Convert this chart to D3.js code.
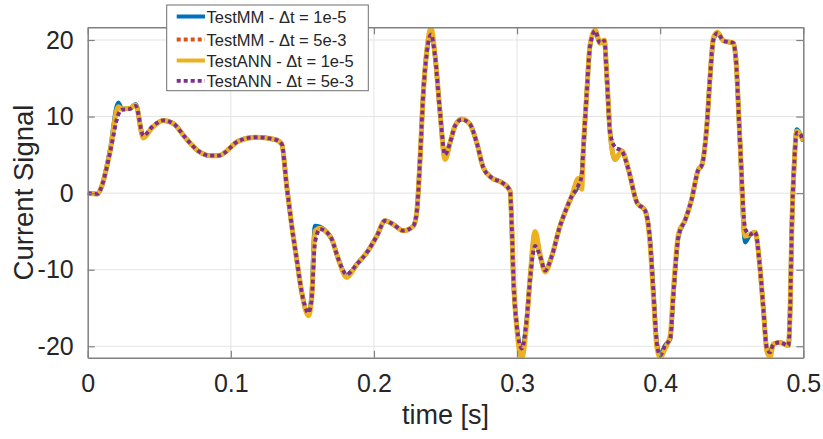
<!DOCTYPE html>
<html>
<head>
<meta charset="utf-8">
<script src="https://cdn.jsdelivr.net/npm/d3@7"></script>
<style>
    body { margin: 0; background: #fff; }
    text { font-family: "Liberation Sans", Arial, sans-serif; fill: #262626; }
</style>
</head>
<body>
<div id="chart"></div>
<script>
// sample times (s)
var time = [0.000, 0.007, 0.0098, 0.0156, 0.0214, 0.0238, 0.0296, 0.0335, 0.0389, 0.0447,
    0.0528, 0.0598, 0.068, 0.0773, 0.0855, 0.0913, 0.1053, 0.117, 0.131, 0.1356,
    0.139, 0.1426, 0.146, 0.1496, 0.1542, 0.1565, 0.1588, 0.1623, 0.1665, 0.1705,
    0.1751, 0.181, 0.188, 0.196, 0.202, 0.2078, 0.2136, 0.2205, 0.2275, 0.2299,
    0.2322, 0.2345, 0.2369, 0.2399, 0.2427, 0.2462, 0.2497, 0.2532, 0.2567, 0.2613,
    0.2671, 0.2718, 0.2765, 0.2823, 0.2893, 0.2951, 0.2963, 0.2974, 0.2998, 0.3033,
    0.3068, 0.3091, 0.3126, 0.3161, 0.3196, 0.3243, 0.33, 0.3335, 0.3382, 0.3428,
    0.3452, 0.3463, 0.3487, 0.351, 0.3545, 0.358, 0.361, 0.3627, 0.365, 0.3685,
    0.3732, 0.3778, 0.3837, 0.3895, 0.393, 0.3953, 0.3976, 0.4, 0.4034, 0.407,
    0.4093, 0.4128, 0.4175, 0.422, 0.4267, 0.429, 0.4326, 0.4349, 0.4372, 0.44,
    0.4442, 0.4512, 0.4529, 0.4558, 0.4594, 0.4628, 0.4663, 0.4698, 0.4721, 0.4745,
    0.4768, 0.4791, 0.4838, 0.4896, 0.4908, 0.492, 0.4938, 0.4955, 0.4978, 0.5];

var mmFine = [0.0, -0.1, 0.9, 5.6, 11.8, 11.0, 11.1, 11.6, 7.3, 8.5,
    9.5, 9.1, 7.3, 5.5, 4.9, 4.9, 6.8, 7.3, 7.0, 6.4,
    1.0, -4.3, -8.6, -13.0, -15.8, -13.2, -4.3, -4.4, -5.0, -6.0,
    -8.6, -10.8, -9.3, -7.5, -5.6, -3.6, -4.1, -4.9, -4.3, -2.5,
    4.4, 13.1, 18.5, 21.0, 17.9, 10.5, 4.5, 6.6, 8.8, 9.7,
    9.0, 6.6, 3.3, 2.0, 1.4, 0.3, -4.3, -10.8, -17.3, -20.6,
    -16.4, -11.2, -5.2, -8.2, -10.1, -8.2, -4.3, -2.5, -0.4, 1.0,
    2.3, 5.7, 13.1, 19.2, 21.2, 19.6, 19.9, 15.3, 7.9, 4.4,
    5.5, 3.1, -1.2, -2.3, -6.4, -13.0, -19.5, -21.2, -19.9, -19.0,
    -13.0, -5.6, -3.5, -0.8, 3.1, 3.6, 8.8, 15.3, 20.1, 20.9,
    19.9, 19.6, 17.5, 6.6, -6.4, -5.4, -5.1, -9.9, -15.1, -20.3,
    -20.8, -19.7, -19.5, -19.9, -15.1, -4.3, 4.4, 8.3, 7.7, 6.8];

var mmCoarse = [0.0, -0.1, 0.9, 5.3, 10.3, 10.9, 11.0, 11.4, 7.5, 8.6,
    9.5, 9.1, 7.3, 5.5, 4.9, 4.9, 6.8, 7.3, 7.0, 6.4,
    1.0, -4.3, -8.6, -13.0, -15.6, -13.8, -6.4, -4.7, -5.0, -6.0,
    -8.6, -10.6, -9.3, -7.5, -5.6, -3.6, -4.1, -4.9, -4.3, -2.5,
    4.4, 13.1, 18.3, 20.7, 17.9, 10.5, 5.0, 6.6, 8.8, 9.6,
    9.0, 6.6, 3.3, 2.0, 1.4, 0.3, -4.3, -10.8, -17.3, -20.3,
    -16.4, -11.2, -6.9, -8.2, -10.1, -8.2, -4.3, -2.5, -0.4, 1.0,
    2.3, 5.7, 13.1, 19.2, 21.2, 19.6, 19.9, 15.3, 7.9, 6.0,
    5.5, 3.1, -1.2, -2.3, -6.4, -13.0, -19.5, -21.2, -19.9, -19.0,
    -13.0, -5.6, -3.5, -0.8, 3.1, 3.6, 8.8, 15.3, 20.1, 20.9,
    19.9, 19.6, 17.5, 6.6, -4.7, -5.4, -5.1, -9.9, -15.1, -20.3,
    -20.8, -19.7, -19.5, -19.9, -15.1, -4.3, 4.4, 7.9, 7.7, 6.8];

var annFine = [0.0, -0.1, 0.9, 5.4, 11.3, 11.0, 11.1, 11.5, 7.2, 8.5,
    9.5, 9.1, 7.3, 5.5, 4.9, 4.9, 6.8, 7.3, 7.0, 6.4,
    1.0, -4.3, -8.6, -13.0, -16.0, -13.8, -5.0, -4.6, -5.0, -6.0,
    -8.6, -11.0, -9.3, -7.5, -5.6, -3.6, -4.1, -4.9, -4.3, -2.5,
    4.4, 13.1, 18.6, 21.6, 18.0, 10.5, 4.4, 6.6, 8.8, 9.7,
    9.0, 6.6, 3.3, 2.0, 1.4, 0.3, -4.3, -10.8, -17.6, -21.5,
    -16.8, -11.0, -5.0, -8.0, -10.3, -8.2, -4.3, -2.5, -0.4, 1.9,
    0.5, 5.7, 13.1, 19.4, 21.3, 19.6, 20.0, 15.3, 7.9, 4.4,
    5.5, 3.1, -1.2, -2.3, -6.8, -13.5, -20.0, -21.5, -20.3, -18.6,
    -12.5, -5.3, -3.5, -0.8, 3.1, 3.6, 8.8, 15.3, 20.3, 21.0,
    19.9, 19.6, 17.5, 6.6, -5.6, -5.4, -5.1, -9.9, -15.1, -20.6,
    -21.4, -19.7, -19.5, -19.9, -15.1, -4.3, 4.4, 8.1, 7.7, 6.8];

var annCoarse = [0.0, -0.1, 0.9, 5.3, 10.3, 10.9, 11.0, 11.4, 7.5, 8.6,
    9.5, 9.1, 7.3, 5.5, 4.9, 4.9, 6.8, 7.3, 7.0, 6.4,
    1.0, -4.3, -8.6, -13.0, -15.6, -13.8, -6.4, -4.7, -5.0, -6.0,
    -8.6, -10.6, -9.3, -7.5, -5.6, -3.6, -4.1, -4.9, -4.3, -2.5,
    4.4, 13.1, 18.3, 20.7, 17.9, 10.5, 5.0, 6.6, 8.8, 9.6,
    9.0, 6.6, 3.3, 2.0, 1.4, 0.3, -4.3, -10.8, -17.3, -20.3,
    -16.4, -11.2, -6.9, -8.2, -10.1, -8.2, -4.3, -2.5, -0.4, 1.0,
    2.3, 5.7, 13.1, 19.2, 21.2, 19.6, 19.9, 15.3, 7.9, 6.0,
    5.5, 3.1, -1.2, -2.3, -6.4, -13.0, -19.5, -21.2, -19.9, -19.0,
    -13.0, -5.6, -3.5, -0.8, 3.1, 3.6, 8.8, 15.3, 20.1, 20.9,
    19.9, 19.6, 17.5, 6.6, -4.7, -5.4, -5.1, -9.9, -15.1, -20.3,
    -20.8, -19.7, -19.5, -19.9, -15.1, -4.3, 4.4, 7.9, 7.7, 6.8];

var seriesNames = ["TestMM - \u0394t = 1e-5", "TestMM - \u0394t = 5e-3",
    "TestANN - \u0394t = 1e-5", "TestANN - \u0394t = 5e-3"];
var xTicks = [0, 0.1, 0.2, 0.3, 0.4, 0.5];
var yTicks = [-20, -10, 0, 10, 20];

var W = 823, H = 439;
// plot box (note: "top" is reserved on window, so use box*)
var boxL = 87.7, boxR = 803.3, boxT = 27.3, boxB = 357.7;

var styles = [
    {color: "#0072BD", width: 4.5, dash: null},
    {color: "#D95319", width: 3.8, dash: "4,3"},
    {color: "#EDB120", width: 5, dash: null},
    {color: "#7E2F8E", width: 3.8, dash: "4,3"}
];
var allValues = [mmFine, mmCoarse, annFine, annCoarse];

var svg = d3.select("#chart").append("svg")
    .attr("width", W)
    .attr("height", H);

svg.append("rect").attr("width", W).attr("height", H).attr("fill", "#fff");

var x = d3.scaleLinear().domain([0, 0.5]).range([boxL, boxR]);
var y = d3.scaleLinear().domain([-21.49, 21.66]).range([boxB, boxT]);

// grid
svg.append("g").selectAll("line").data(xTicks.slice(1, -1)).enter().append("line")
    .attr("x1", function (d) { return x(d); })
    .attr("x2", function (d) { return x(d); })
    .attr("y1", boxT).attr("y2", boxB)
    .attr("stroke", "#e3e3e3").attr("stroke-width", 1);
svg.append("g").selectAll("line").data(yTicks).enter().append("line")
    .attr("y1", function (d) { return y(d); })
    .attr("y2", function (d) { return y(d); })
    .attr("x1", boxL).attr("x2", boxR)
    .attr("stroke", "#e3e3e3").attr("stroke-width", 1);

// curves
svg.append("clipPath").attr("id", "clip").append("rect")
    .attr("x", boxL).attr("y", boxT)
    .attr("width", boxR - boxL).attr("height", boxB - boxT);

var line = d3.line()
    .x(function (d) { return x(d[0]); })
    .y(function (d) { return y(d[1]); })
    .curve(d3.curveMonotoneX);

var plot = svg.append("g").attr("clip-path", "url(#clip)");
allValues.forEach(function (vals, k) {
    var pts = time.map(function (t, i) { return [t, vals[i]]; });
    var p = plot.append("path")
        .attr("d", line(pts))
        .attr("fill", "none")
        .attr("stroke", styles[k].color)
        .attr("stroke-width", styles[k].width)
        .attr("stroke-linejoin", "round");
    if (styles[k].dash) p.attr("stroke-dasharray", styles[k].dash);
});

// axes with inward ticks, MATLAB box style (plain hyphen for minus)
var fmt = function (d) { return String(d); };
var axB = svg.append("g").attr("transform", "translate(0," + boxB + ")")
    .call(d3.axisBottom(x).tickValues(xTicks).tickSizeInner(-7).tickSizeOuter(0).tickPadding(17).tickFormat(fmt));
var axT = svg.append("g").attr("transform", "translate(0," + boxT + ")")
    .call(d3.axisTop(x).tickValues(xTicks).tickSizeInner(-7).tickSizeOuter(0).tickFormat(""));
var axL = svg.append("g").attr("transform", "translate(" + boxL + ",0)")
    .call(d3.axisLeft(y).tickValues(yTicks).tickSizeInner(-7).tickSizeOuter(0).tickPadding(14).tickFormat(fmt));
var axR = svg.append("g").attr("transform", "translate(" + boxR + ",0)")
    .call(d3.axisRight(y).tickValues(yTicks).tickSizeInner(-7).tickSizeOuter(0).tickFormat(""));

[axB, axT, axL, axR].forEach(function (a) {
    a.select(".domain").attr("stroke", "#808080").attr("stroke-width", 1.5);
    a.selectAll(".tick line").attr("stroke", "#808080").attr("stroke-width", 1.2);
    a.selectAll("text").attr("font-size", "25px")
        .attr("font-family", "'Liberation Sans', Arial, sans-serif")
        .attr("fill", "#262626");
});

// labels
svg.append("text")
    .attr("x", (boxL + boxR) / 2).attr("y", 424)
    .attr("text-anchor", "middle")
    .attr("font-size", "27px")
    .text("time [s]");
svg.append("text")
    .attr("transform", "translate(33," + ((boxT + boxB) / 2) + ") rotate(-90)")
    .attr("text-anchor", "middle")
    .attr("font-size", "27.5px")
    .text("Current Signal");

// legend
var lg = svg.append("g");
lg.append("rect")
    .attr("x", 166.7).attr("y", 5)
    .attr("width", 201.6).attr("height", 85.7)
    .attr("fill", "#fff").attr("stroke", "#6e6e6e").attr("stroke-width", 1);
var rowY = [16.5, 39.5, 60.5, 80.8];
seriesNames.forEach(function (name, k) {
    var s = lg.append("line")
        .attr("x1", 176.7).attr("x2", 205)
        .attr("y1", rowY[k]).attr("y2", rowY[k])
        .attr("stroke", styles[k].color)
        .attr("stroke-width", k % 2 === 0 ? 4 : 3.8);
    if (styles[k].dash) s.attr("stroke-dasharray", styles[k].dash);
    lg.append("text")
        .attr("x", 206.5).attr("y", rowY[k] + 6)
        .attr("font-size", "16.5px")
        .text(name);
});
</script>
</body>
</html>
